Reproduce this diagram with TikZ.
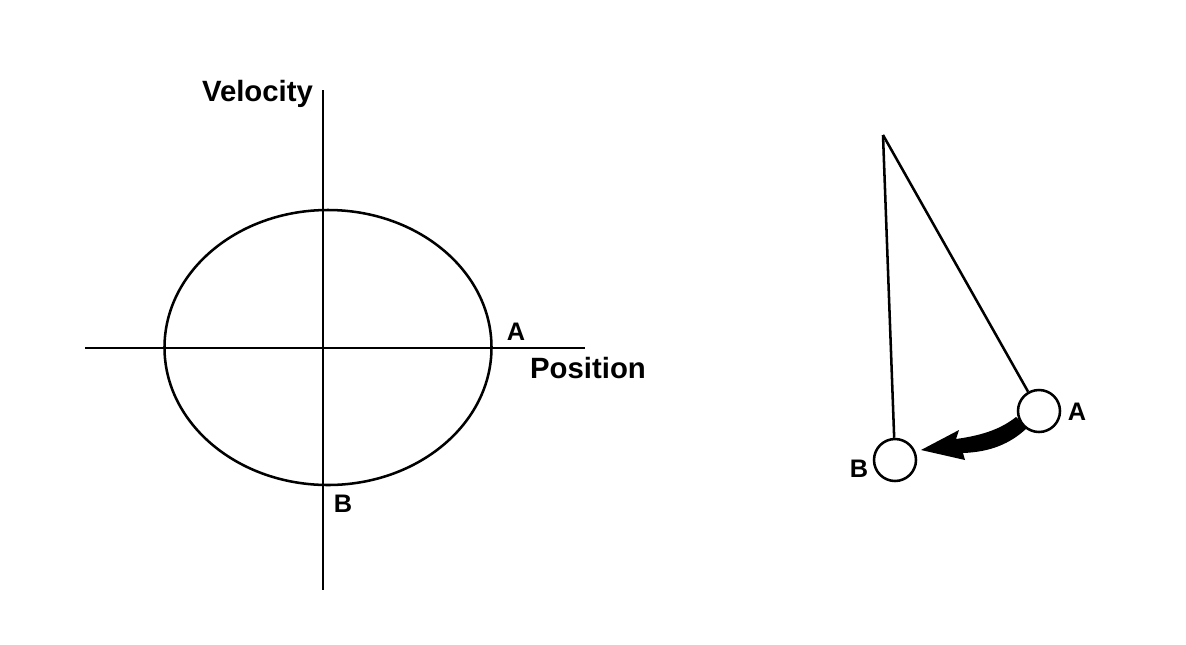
\documentclass[tikz,border=0pt]{standalone}
\usepackage{fontspec}
\setmainfont{Liberation Sans}
\begin{document}
\begin{tikzpicture}[x=0.75pt,y=-0.75pt,
  line/.style={line width=1.9pt,black},
  biglab/.style={font=\bfseries\fontsize{22}{26}\selectfont,inner sep=0pt},
  smalllab/.style={font=\bfseries\fontsize{19}{23}\selectfont,inner sep=0pt},
  bob/.style={circle,draw,line width=1.9pt,minimum size=31.5pt,inner sep=0pt}]
\useasboundingbox (0,0) rectangle (1186,644);
% phase plot
\coordinate (vtop) at (323,90);
\coordinate (vbot) at (323,590);
\coordinate (hl) at (85,348);
\coordinate (hr) at (585,348);
\draw[line] (vtop) -- (vbot);
\draw[line] (hl) -- (hr);
\draw[line] (328,347.5) ellipse [x radius=163.5, y radius=137.5];
\node[biglab] (vel) at (257.5,94) {Velocity};
\node[biglab] (pos) at (588,368) {Position};
\node[smalllab] (la) at (516,332) {A};
\node[smalllab] (lb) at (343,504) {B};
% pendulum
\coordinate (pivot) at (883,135);
\node[bob] (bobB) at (895,460) {};
\node[bob] (bobA) at (1039,411) {};
\draw[line] (pivot) -- (bobB);
\draw[line] (pivot) -- (bobA);
\node[smalllab] (pa) at (1077,412) {A};
\node[smalllab] (pb) at (859,469) {B};
\fill (921,450) -- (959,430) -- (956,439) .. controls (985,435) and (1002,428) .. (1016,417)
  -- (1027,428) .. controls (1010,444) and (990,452) .. (963,453) -- (965,460) -- cycle;
\end{tikzpicture}
\end{document}
